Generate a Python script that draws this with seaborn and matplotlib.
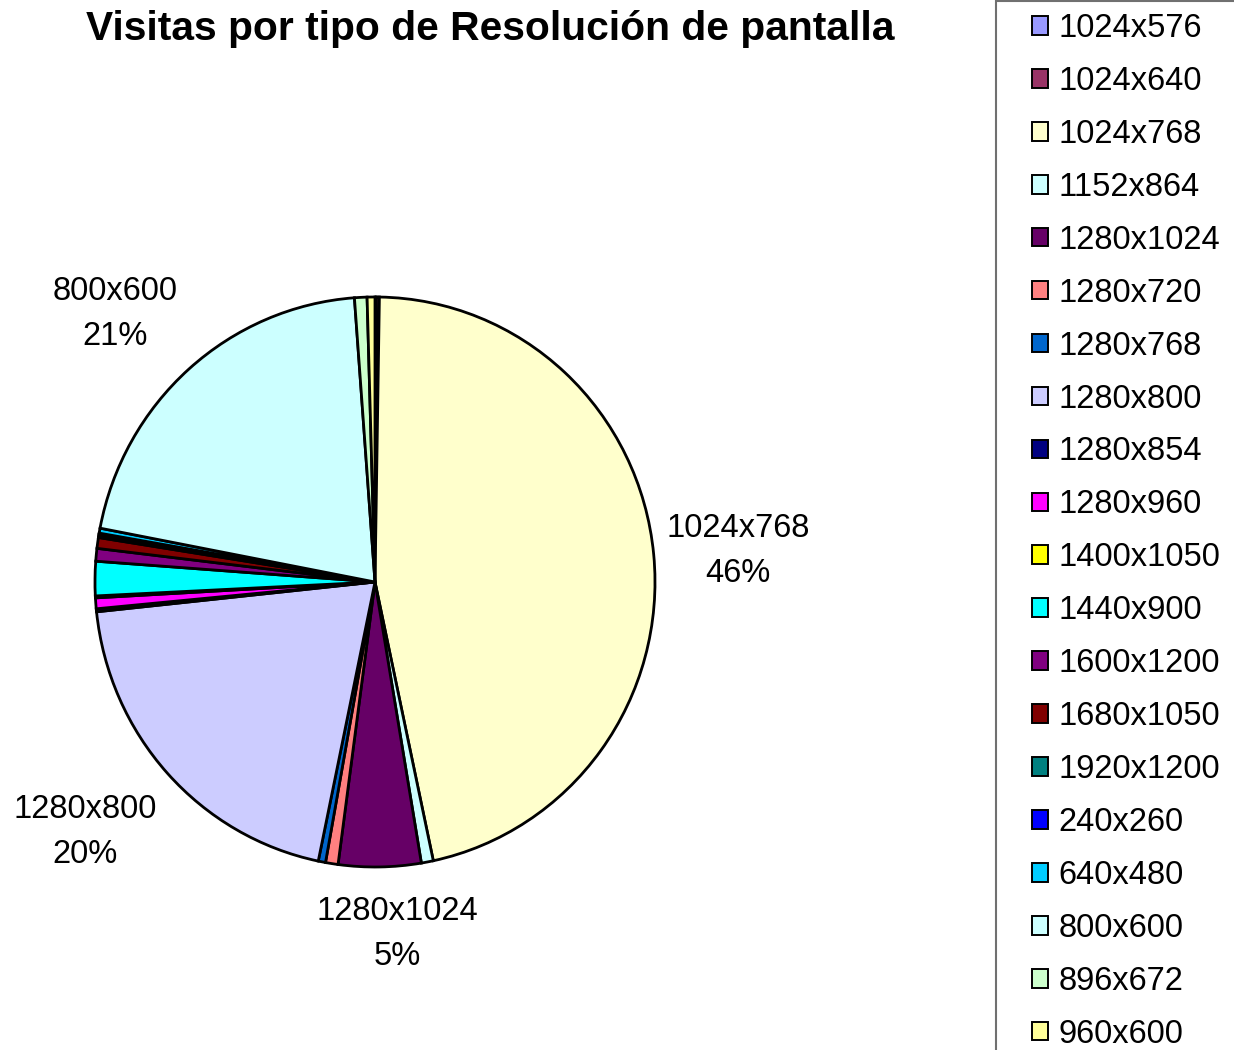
import matplotlib
matplotlib.use("Agg")
import matplotlib.pyplot as plt
import seaborn as sns
from matplotlib.patches import Patch, Rectangle

sns.set_theme(style="white")
plt.rcParams['font.family'] = ['Liberation Sans', 'DejaVu Sans']

categories = ["1024x576", "1024x640", "1024x768", "1152x864", "1280x1024",
              "1280x720", "1280x768", "1280x800", "1280x854", "1280x960",
              "1400x1050", "1440x900", "1600x1200", "1680x1050", "1920x1200",
              "240x260", "640x480", "800x600", "896x672", "960x600"]
values = [0.083, 0.167, 46.36, 0.69, 4.75,
          0.72, 0.42, 20.06, 0.17, 0.61,
          0.11, 1.94, 0.72, 0.61, 0.14,
          0.11, 0.28, 20.78, 0.72, 0.45]
colors = ["#9999FF", "#993366", "#FFFFCC", "#CCFFFF", "#660066",
          "#FF8080", "#0066CC", "#CCCCFF", "#000080", "#FF00FF",
          "#FFFF00", "#00FFFF", "#800080", "#800000", "#008080",
          "#0000FF", "#00CCFF", "#CCFFFF", "#CCFFCC", "#FFFF99"]
shown_labels = {"1024x768": "46%", "1280x1024": "5%", "1280x800": "20%", "800x600": "21%"}
label_pos = {"1024x768": (738, 551), "1280x1024": (397, 934),
             "1280x800": (85, 832), "800x600": (115, 314)}

W, H = 1234, 1050
fig = plt.figure(figsize=(W / 100, H / 100), dpi=100)
cx, cy, rx, ry = 375, 582, 280, 285
ax = fig.add_axes([(cx - rx) / W, (H - (cy + ry)) / H, 2 * rx / W, 2 * ry / H])
ax.pie(values, colors=colors, startangle=90, counterclock=False,
       wedgeprops=dict(edgecolor="black", linewidth=2.0), radius=1.0)
ax.set_xlim(-1, 1)
ax.set_ylim(-1, 1)
ax.set_aspect("auto")
ax.axis("off")

for cat, pct in shown_labels.items():
    px, py = label_pos[cat]
    fig.text(px / W, 1 - py / H, f"{cat}\n{pct}", ha="center", va="center",
             fontsize=23.5, color="black", linespacing=1.56)

fig.text(490 / W, 1 - 29 / H, "Visitas por tipo de Resolución de pantalla",
         ha="center", va="center", fontsize=29.3, fontweight="bold", color="black")

# legend frame
fig.patches.append(Rectangle((996 / W, -0.02), 0.2, 1.02 - 0.5 / H, transform=fig.transFigure,
                             facecolor="white", edgecolor="#707070", linewidth=1.5, zorder=0))

handles = [Patch(facecolor=c, edgecolor="black", linewidth=1.4) for c in colors]
leg = fig.legend(handles, categories, loc="upper left",
                 bbox_to_anchor=(1032 / W, 1 - 13 / H), frameon=False,
                 fontsize=23.5, handlelength=0.5, handleheight=0.5,
                 handletextpad=0.31, labelspacing=0.672, borderaxespad=0, borderpad=0,
                 labelcolor="black")

fig.savefig("out.png", dpi=100, facecolor="white")
